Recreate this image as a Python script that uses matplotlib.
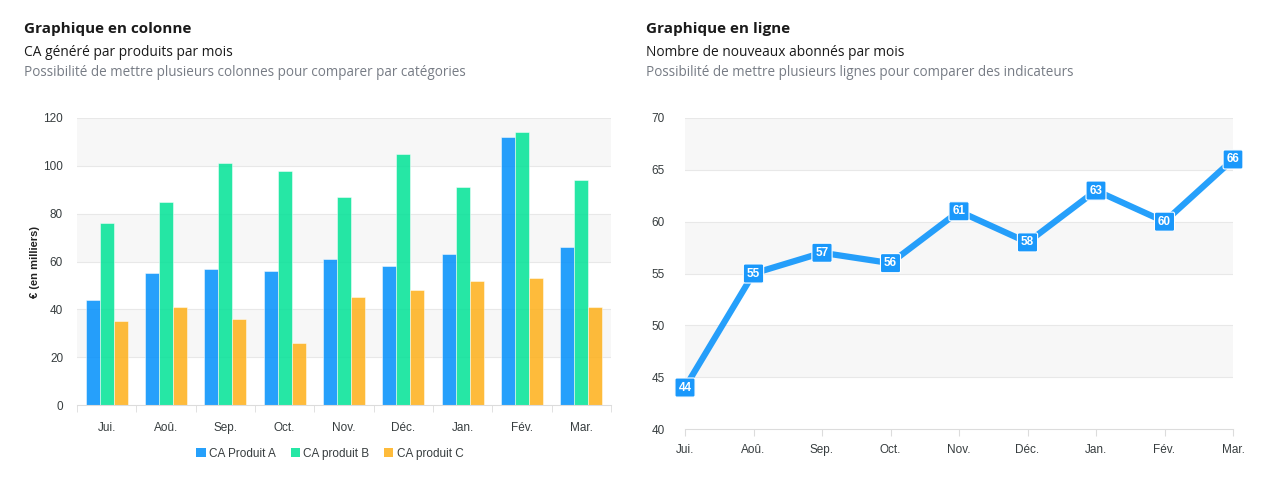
import matplotlib
matplotlib.use("Agg")
import matplotlib.pyplot as plt
import numpy as np
from matplotlib.patches import Patch

mois = ['Jui.', 'Aoû.', 'Sep.', 'Oct.', 'Nov.', 'Déc.', 'Jan.', 'Fév.', 'Mar.']
ca_a = [44, 55, 57, 56, 61, 58, 63, 112, 66]
ca_b = [76, 85, 101, 98, 87, 105, 91, 114, 94]
ca_c = [35, 41, 36, 26, 45, 48, 52, 53, 41]
abonnes = [44, 55, 57, 56, 61, 58, 63, 60, 66]

bleu = '#008FFB'
vert = '#00E396'
orange = '#FEB019'
tick_font = 'Liberation Sans'
title_font = 'Open Sans'

fig = plt.figure(figsize=(12.73, 4.86), dpi=100)

# titres
fig.text(24/1273, 1-29/486, 'Graphique en colonne', fontsize=11, fontweight='bold', family=title_font, va='center', color='#1a1a1a')
fig.text(24/1273, 1-52/486, 'CA généré par produits par mois', fontsize=9.9, family=title_font, va='center', color='#1a1a1a')
fig.text(24/1273, 1-73/486, 'Possibilité de mettre plusieurs colonnes pour comparer par catégories', fontsize=9.75, family=title_font, va='center', color='#777c85')
fig.text(646/1273, 1-29/486, 'Graphique en ligne', fontsize=11, fontweight='bold', family=title_font, va='center', color='#1a1a1a')
fig.text(646/1273, 1-52/486, 'Nombre de nouveaux abonnés par mois', fontsize=9.9, family=title_font, va='center', color='#1a1a1a')
fig.text(646/1273, 1-73/486, 'Possibilité de mettre plusieurs lignes pour comparer des indicateurs', fontsize=9.75, family=title_font, va='center', color='#777c85')


def bandes(ax, ticks):
    for i in range(len(ticks) - 1):
        if (len(ticks) - 2 - i) % 2 == 0:
            ax.axhspan(ticks[i], ticks[i+1], color='#f7f7f7', zorder=0, lw=0)
    for t in ticks[1:]:
        ax.axhline(t, color='#e8e8e8', lw=0.8, zorder=0.5)
    for s in ['top', 'right', 'left']:
        ax.spines[s].set_visible(False)
    ax.spines['bottom'].set_color('#dcdcdc')
    ax.tick_params(axis='y', length=0, labelsize=8.5, labelcolor='#373d3f', pad=10)
    ax.tick_params(axis='x', labelsize=8.5, labelcolor='#373d3f', color='#dcdcdc')
    for lab in ax.get_xticklabels() + ax.get_yticklabels():
        lab.set_family(tick_font)


# colonnes
ax1 = fig.add_axes([77/1273, 1-405/486, (611-77)/1273, (405-118)/486])
x = np.arange(len(mois))
w = 0.236
ax1.bar(x - w, ca_a, w, color=bleu, alpha=0.85, edgecolor='white', lw=0.4, zorder=2)
ax1.bar(x, ca_b, w, color=vert, alpha=0.85, edgecolor='white', lw=0.4, zorder=2)
ax1.bar(x + w, ca_c, w, color=orange, alpha=0.85, edgecolor='white', lw=0.4, zorder=2)
ax1.set_xlim(-0.5, len(mois) - 0.5)
ax1.set_ylim(0, 120)
yt1 = [0, 20, 40, 60, 80, 100, 120]
ax1.set_yticks(yt1)
ax1.set_xticks(x)
ax1.set_xticklabels(mois)
ax1.set_xticks(np.arange(-0.5, len(mois)), minor=True)
bandes(ax1, yt1)
ax1.tick_params(axis='x', which='major', length=0, pad=12)
ax1.tick_params(axis='x', which='minor', length=5, color='#dcdcdc')
ax1.set_ylabel('€ (en milliers)', fontsize=8, fontweight='bold', family=tick_font, color='#222222', labelpad=2)

handles = [Patch(facecolor=c, alpha=0.85, edgecolor='none') for c in [bleu, vert, orange]]
fig.legend(handles, ['CA Produit A', 'CA produit B', 'CA produit C'], loc='center',
           bbox_to_anchor=(330/1273, 1-454/486), ncol=3, frameon=False,
           prop={'family': tick_font, 'size': 8.5}, handlelength=0.8, handleheight=0.8,
           handletextpad=0.3, columnspacing=1.2, labelcolor='#373d3f')

# ligne
ax2 = fig.add_axes([685/1273, 1-429/486, (1233-685)/1273, (429-118)/486])
x2 = np.arange(len(mois))
ax2.plot(x2, abonnes, color=bleu, alpha=0.85, lw=4.5, zorder=3, solid_joinstyle='miter')
for xi, v in zip(x2, abonnes):
    ax2.annotate(str(v), (xi, v), ha='center', va='center', fontsize=8.5, fontweight='bold',
                 family=tick_font, color='white', zorder=5,
                 bbox=dict(boxstyle='round,pad=0.3,rounding_size=0.15', fc='#1a98fb', ec='white', lw=0.8))
ax2.set_xlim(0, len(mois) - 1)
ax2.set_ylim(40, 70)
yt2 = [40, 45, 50, 55, 60, 65, 70]
ax2.set_yticks(yt2)
ax2.set_xticks(x2)
ax2.set_xticklabels(mois)
bandes(ax2, yt2)
ax2.tick_params(axis='x', length=5, pad=6)
for lab in ax2.get_yticklabels():
    lab.set_horizontalalignment('left')
ax2.yaxis.set_tick_params(pad=24)

fig.savefig('out.png', dpi=100)
